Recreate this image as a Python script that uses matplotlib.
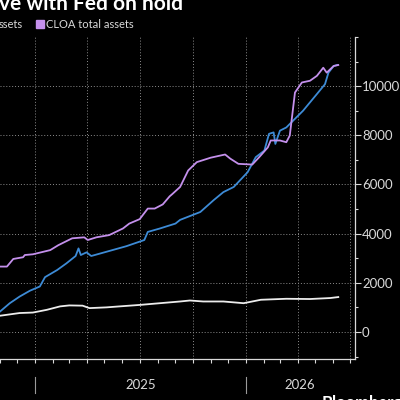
import matplotlib
matplotlib.use("Agg")
import matplotlib.pyplot as plt
import matplotlib.dates as mdates
import matplotlib.patches as patches
import pandas as pd

# CLOA total assets (purple)
cloa_dates = ["2024-11-01", "2024-11-13", "2024-11-24", "2024-12-11", "2024-12-14",
              "2024-12-28", "2025-01-27", "2025-02-10", "2025-03-06", "2025-03-27",
              "2025-04-02", "2025-04-17", "2025-05-09", "2025-06-02", "2025-06-13",
              "2025-07-01", "2025-07-15", "2025-07-27", "2025-08-10", "2025-08-22",
              "2025-08-26", "2025-09-09", "2025-09-23", "2025-10-08", "2025-11-01",
              "2025-11-26", "2025-12-05", "2025-12-19", "2026-01-12", "2026-01-24",
              "2026-02-08", "2026-02-13", "2026-03-01", "2026-03-12", "2026-03-18",
              "2026-03-27", "2026-04-08", "2026-04-22", "2026-05-04", "2026-05-15",
              "2026-05-21", "2026-06-02", "2026-06-10"]
cloa_vals = [2660, 2660, 2970, 3040, 3130, 3160, 3330, 3530, 3810, 3850,
             3740, 3850, 3940, 4210, 4410, 4590, 5020, 5020, 5190, 5520,
             5600, 5900, 6570, 6910, 7090, 7220, 7050, 6840, 6810, 7110,
             7510, 7790, 7790, 7720, 7990, 9740, 10150, 10220, 10420, 10750,
             10550, 10820, 10860]

# blue series
blue_dates = ["2024-11-01", "2024-11-18", "2024-12-05", "2024-12-23", "2025-01-09",
              "2025-01-18", "2025-02-08", "2025-02-24", "2025-03-12", "2025-03-17",
              "2025-03-21", "2025-03-31", "2025-04-08", "2025-05-04", "2025-06-08",
              "2025-07-09", "2025-07-15", "2025-08-05", "2025-09-01", "2025-09-09",
              "2025-10-14", "2025-11-06", "2025-11-23", "2025-12-11", "2026-01-04",
              "2026-01-18", "2026-02-02", "2026-02-10", "2026-02-18", "2026-02-21",
              "2026-03-01", "2026-03-12", "2026-04-10", "2026-05-04", "2026-05-18",
              "2026-05-24", "2026-06-02", "2026-06-08"]
blue_vals = [830, 1170, 1440, 1680, 1850, 2230, 2520, 2790, 3090, 3400,
             3130, 3240, 3090, 3260, 3490, 3740, 4070, 4210, 4410, 4560,
             4880, 5360, 5690, 5900, 6500, 7110, 7380, 8060, 8120, 7650,
             8190, 8320, 9000, 9680, 10080, 10550, 10820, 10860]

# white series
white_dates = ["2024-11-01", "2024-12-05", "2024-12-28", "2025-01-21", "2025-02-13",
               "2025-03-01", "2025-03-24", "2025-04-05", "2025-05-04", "2025-05-27",
               "2025-07-01", "2025-08-05", "2025-09-09", "2025-09-26", "2025-10-19",
               "2025-11-23", "2025-12-28", "2026-01-27", "2026-03-12", "2026-04-22",
               "2026-05-27", "2026-06-10"]
white_vals = [660, 770, 790, 900, 1040, 1080, 1070, 970, 1000, 1040,
              1100, 1170, 1240, 1280, 1240, 1240, 1170, 1310, 1350, 1340,
              1380, 1420]

yticks = [0, 2000, 4000, 6000, 8000, 10000]
year_labels = ["2025", "2026"]

BG = "black"
FG = "#d9d9d9"
PURPLE = "#c490ec"
BLUE = "#3d8bd6"
WHITE = "#ececec"

plt.rcParams["font.family"] = ["Lato", "DejaVu Sans"]

W, H = 400, 400
fig = plt.figure(figsize=(4, 4), dpi=100, facecolor=BG)


def fx(px):
    return px / W


def fy(py):
    return 1 - py / H


# axes: left edge at 0 px, right spine at 355 px, top 37 px, bottom 359 px
ax = fig.add_axes([fx(0), fy(359), fx(355), fy(37) - fy(359)])
ax.set_facecolor(BG)

ax.plot(pd.to_datetime(white_dates), white_vals, color=WHITE, lw=1.3)
ax.plot(pd.to_datetime(blue_dates), blue_vals, color=BLUE, lw=1.3)
ax.plot(pd.to_datetime(cloa_dates), cloa_vals, color=PURPLE, lw=1.3)

ax.set_xlim(pd.Timestamp("2024-11-01"), pd.Timestamp("2026-07-09"))
ax.set_ylim(-1100, 12000)

ax.yaxis.tick_right()
ax.set_yticks(yticks)
ax.set_yticks(range(-1000, 12001, 1000), minor=True)
ax.tick_params(axis="y", which="major", colors=FG, labelcolor=FG, labelsize=9.5,
               length=4, width=0.8, pad=1)
ax.tick_params(axis="y", which="minor", colors=FG, length=2.5, width=0.8)

ax.xaxis.set_major_locator(mdates.MonthLocator(bymonth=[1, 4, 7, 10]))
ax.xaxis.set_minor_locator(mdates.MonthLocator())
ax.xaxis.set_major_formatter(plt.NullFormatter())
ax.tick_params(axis="x", which="both", colors=FG, length=3, width=0.8)

ax.grid(True, which="major", color="#8c8c8c", linestyle=(0, (1, 2)), linewidth=0.7)
ax.set_axisbelow(True)

for side in ["left", "top"]:
    ax.spines[side].set_visible(False)
for side in ["right", "bottom"]:
    ax.spines[side].set_color(FG)
    ax.spines[side].set_linewidth(0.9)

# year separators and labels under the axis
for d in ["2025-01-01", "2026-01-01"]:
    ax.plot([pd.Timestamp(d)] * 2, [-0.055, -0.105], transform=ax.get_xaxis_transform(),
            color="#9a9a9a", lw=0.8, clip_on=False)
year_pos = ["2025-07-02", "2026-04-05"]
for lab, d in zip(year_labels, year_pos):
    ax.text(pd.Timestamp(d), -0.08, lab, transform=ax.get_xaxis_transform(),
            ha="center", va="center", color=FG, fontsize=9.5)

# title (cut off at the top and left)
fig.text(fx(-1), fy(10), "ve with Fed on hold", color="white", fontsize=15,
         fontweight="bold", ha="left", va="baseline")

# legend (partly cut off)
fig.text(fx(-1), fy(28.5), "ssets", color=FG, fontsize=8, ha="left", va="baseline")
fig.patches.append(patches.Rectangle((fx(36), fy(28)), fx(7.5), fx(7.5),
                                     transform=fig.transFigure, color=PURPLE))
fig.text(fx(46), fy(28.5), "CLOA total assets", color=FG, fontsize=8,
         ha="left", va="baseline")

# source
fig.text(fx(322), fy(408), "Bloomberg", color="white", fontsize=12,
         fontweight="bold", ha="left", va="baseline")

fig.savefig("out.png", dpi=100, facecolor=BG)
